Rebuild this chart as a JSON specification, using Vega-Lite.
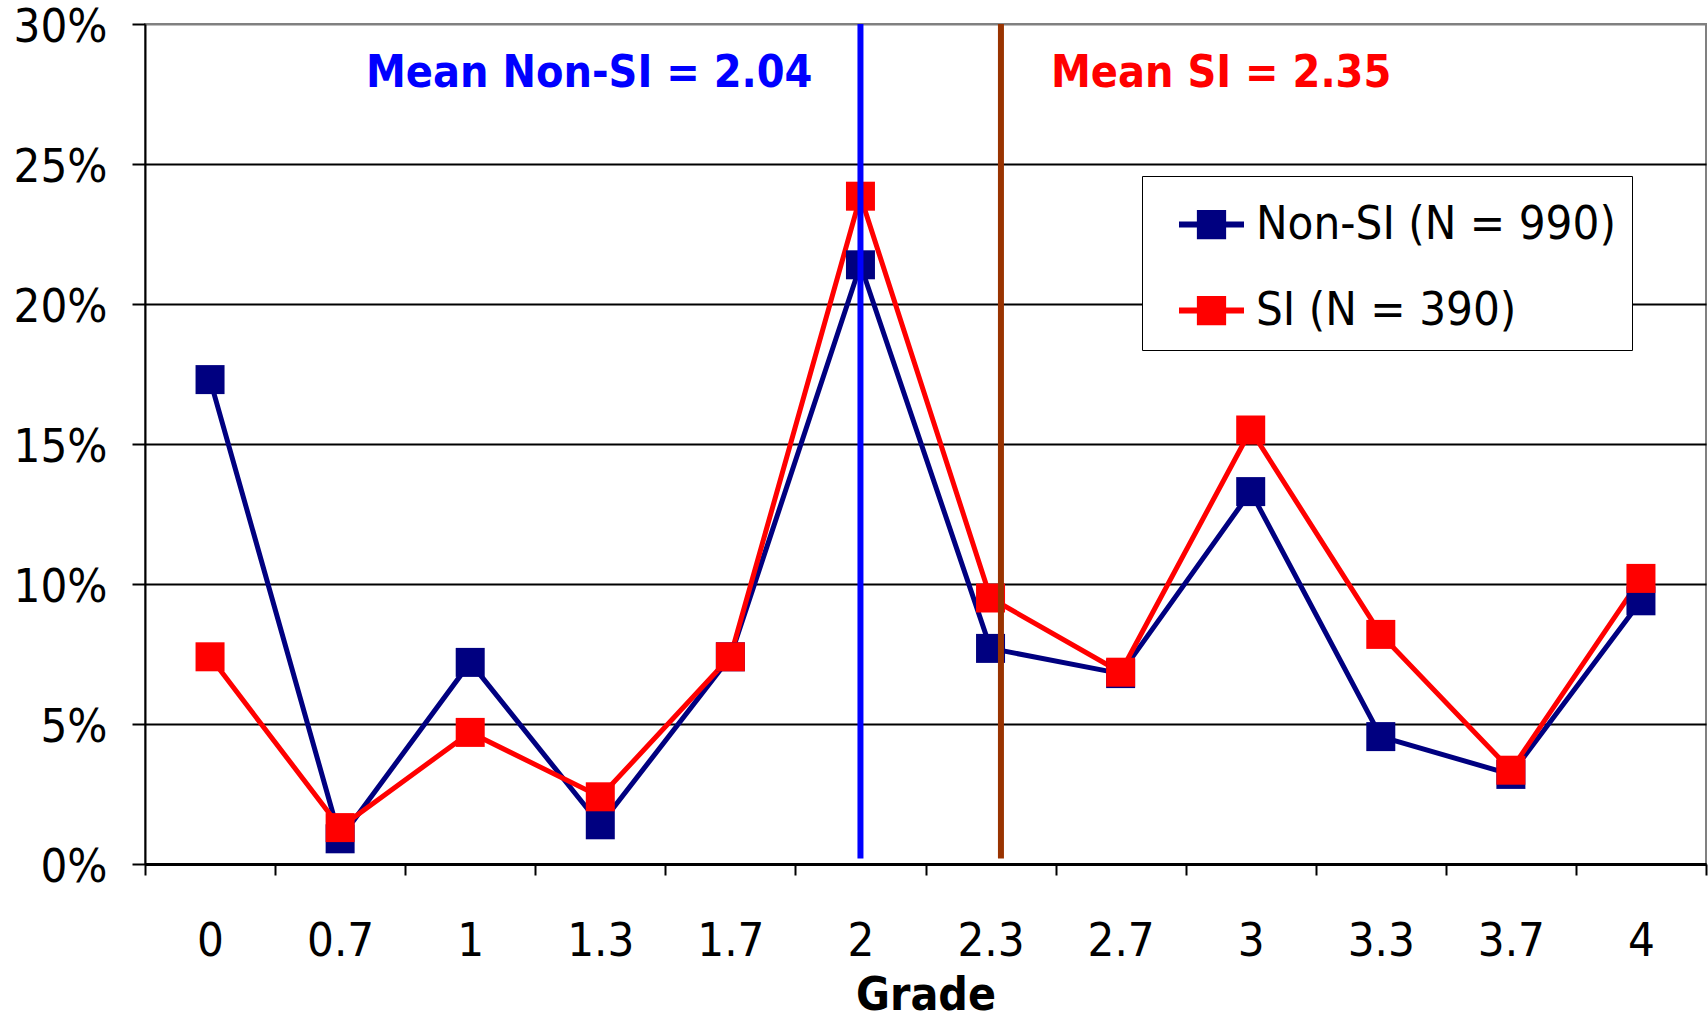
{
  "$schema": "https://vega.github.io/schema/vega-lite/v6.json",
  "width": 1561,
  "height": 840,
  "autosize": {"type": "none"},
  "padding": {"left": 145, "top": 24, "right": 2, "bottom": 151},
  "background": "white",
  "config": {
    "view": {"stroke": "#808080", "strokeWidth": 2},
    "font": "DejaVu Sans Condensed",
    "axis": {"labelFont": "DejaVu Sans Condensed", "titleFont": "DejaVu Sans Condensed"}
  },
  "datasets": {
    "grades": [
      {"grade": "0", "series": "Non-SI (N = 990)", "pct": 0.173},
      {"grade": "0.7", "series": "Non-SI (N = 990)", "pct": 0.009},
      {"grade": "1", "series": "Non-SI (N = 990)", "pct": 0.072},
      {"grade": "1.3", "series": "Non-SI (N = 990)", "pct": 0.014},
      {"grade": "1.7", "series": "Non-SI (N = 990)", "pct": 0.074},
      {"grade": "2", "series": "Non-SI (N = 990)", "pct": 0.214},
      {"grade": "2.3", "series": "Non-SI (N = 990)", "pct": 0.077},
      {"grade": "2.7", "series": "Non-SI (N = 990)", "pct": 0.068},
      {"grade": "3", "series": "Non-SI (N = 990)", "pct": 0.133},
      {"grade": "3.3", "series": "Non-SI (N = 990)", "pct": 0.0455},
      {"grade": "3.7", "series": "Non-SI (N = 990)", "pct": 0.032},
      {"grade": "4", "series": "Non-SI (N = 990)", "pct": 0.094},
      {"grade": "0", "series": "SI (N = 390)", "pct": 0.074},
      {"grade": "0.7", "series": "SI (N = 390)", "pct": 0.013},
      {"grade": "1", "series": "SI (N = 390)", "pct": 0.047},
      {"grade": "1.3", "series": "SI (N = 390)", "pct": 0.024},
      {"grade": "1.7", "series": "SI (N = 390)", "pct": 0.074},
      {"grade": "2", "series": "SI (N = 390)", "pct": 0.2385},
      {"grade": "2.3", "series": "SI (N = 390)", "pct": 0.095},
      {"grade": "2.7", "series": "SI (N = 390)", "pct": 0.0685},
      {"grade": "3", "series": "SI (N = 390)", "pct": 0.155},
      {"grade": "3.3", "series": "SI (N = 390)", "pct": 0.082},
      {"grade": "3.7", "series": "SI (N = 390)", "pct": 0.0335},
      {"grade": "4", "series": "SI (N = 390)", "pct": 0.102}
    ],
    "means": [
      {"grade": "2", "group": "Non-SI", "mean": 2.04, "label": "Mean Non-SI = 2.04"},
      {"grade": "2.3", "group": "SI", "mean": 2.35, "label": "Mean SI = 2.35"}
    ]
  },
  "layer": [
    {
      "data": {"name": "grades"},
      "mark": {"type": "line", "strokeWidth": 5, "point": {"shape": "square", "size": 841, "filled": true, "opacity": 1}},
      "encoding": {
        "x": {
          "field": "grade", "type": "ordinal", "bandPosition": 0.5,
          "sort": ["0", "0.7", "1", "1.3", "1.7", "2", "2.3", "2.7", "3", "3.3", "3.7", "4"],
          "scale": {"type": "band", "paddingInner": 0, "paddingOuter": 0},
          "axis": {
            "title": "Grade", "titleFontWeight": "bold", "titleFontSize": 46, "titleColor": "black",
            "titleY": 145, "titleBaseline": "alphabetic",
            "labelAngle": 0, "labelFontSize": 47, "labelColor": "black", "labelBaseline": "alphabetic",
            "labelPadding": 80, "tickSize": 11, "tickBand": "extent", "tickColor": "black", "tickWidth": 2,
            "domainColor": "black", "domainWidth": 3, "grid": false
          }
        },
        "y": {
          "field": "pct", "type": "quantitative",
          "scale": {"domain": [0, 0.3], "nice": false},
          "axis": {
            "title": null, "values": [0, 0.05, 0.1, 0.15, 0.2, 0.25, 0.3], "format": ".0%",
            "labelFontSize": 47, "labelColor": "black", "labelPadding": 25, "labelBaseline": "middle",
            "labelOffset": 3,
            "tickSize": 13, "tickColor": "black", "tickWidth": 2,
            "domainColor": "black", "domainWidth": 2,
            "grid": true, "gridWidth": 2,
            "gridColor": {"condition": {"test": "datum.value >= 0.29", "value": "#808080"}, "value": "black"}
          }
        },
        "color": {
          "field": "series", "type": "nominal",
          "scale": {"domain": ["Non-SI (N = 990)", "SI (N = 390)"], "range": ["#000080", "#FF0000"]},
          "legend": {
            "title": null, "orient": "none", "legendX": 997, "legendY": 152, "direction": "vertical",
            "labelFontSize": 47, "labelColor": "black", "labelFont": "DejaVu Sans Condensed",
            "symbolType": "M-1,-0.09H1V0.09H-1Z M-0.45,-0.45H0.45V0.45H-0.45Z",
            "symbolSize": 4225, "symbolStrokeWidth": 0, "symbolOffset": 21,
            "labelOffset": 12, "rowPadding": 30, "padding": 16,
            "fillColor": "white", "strokeColor": "black",
            "labelLimit": 600,
            "encode": {"symbols": {"update": {"fill": {"scale": "color", "field": "value"}, "strokeWidth": {"value": 0}, "opacity": {"value": 1}}}}
          }
        }
      }
    },
    {
      "data": {"name": "means"},
      "transform": [{"filter": "datum.group == 'Non-SI'"}],
      "layer": [
        {
          "mark": {"type": "rule", "color": "#0000FF", "strokeWidth": 6},
          "encoding": {
            "x": {"field": "grade", "type": "ordinal", "bandPosition": 0.5},
            "y": {"datum": 0.3},
            "y2": {"datum": 0.002}
          }
        },
        {
          "mark": {"type": "text", "color": "#0000FF", "fontWeight": "bold", "fontSize": 44.5, "align": "right", "baseline": "middle", "dx": -48},
          "encoding": {
            "x": {"field": "grade", "type": "ordinal", "bandPosition": 0.5},
            "y": {"datum": 0.282},
            "text": {"field": "label"}
          }
        }
      ]
    },
    {
      "data": {"name": "means"},
      "transform": [{"filter": "datum.group == 'SI'"}],
      "layer": [
        {
          "mark": {"type": "rule", "color": "#993300", "strokeWidth": 6},
          "encoding": {
            "x": {"field": "grade", "type": "ordinal", "bandPosition": 0.58},
            "y": {"datum": 0.3},
            "y2": {"datum": 0.002}
          }
        },
        {
          "mark": {"type": "text", "color": "#FF0000", "fontWeight": "bold", "fontSize": 44.5, "align": "left", "baseline": "middle", "dx": 50},
          "encoding": {
            "x": {"field": "grade", "type": "ordinal", "bandPosition": 0.58},
            "y": {"datum": 0.282},
            "text": {"field": "label"}
          }
        }
      ]
    }
  ]
}
